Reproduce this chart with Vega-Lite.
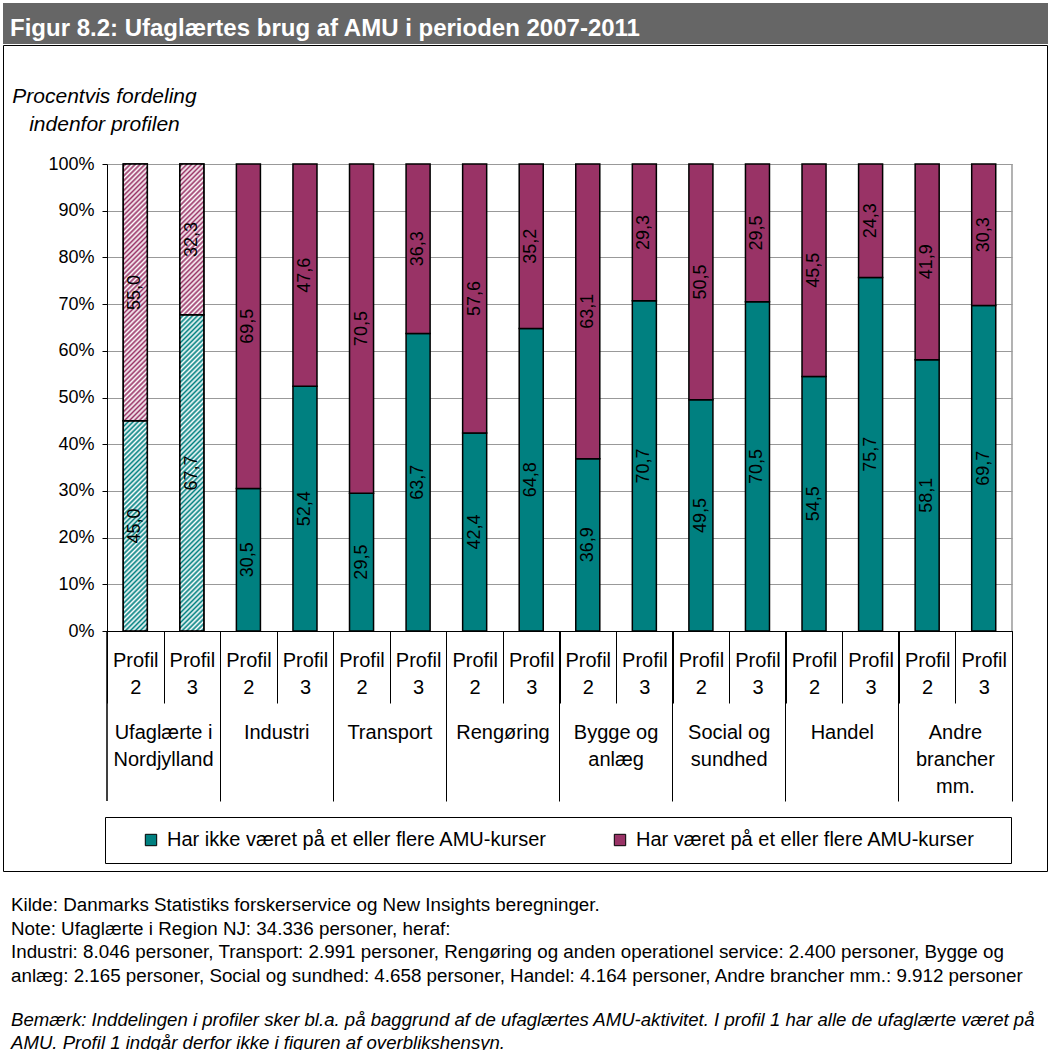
{
"$schema":"https://vega.github.io/schema/vega-lite/v6.json",
"padding":{"left":2,"top":3,"right":0,"bottom":0},
"background":"white",
"spacing":0,
"config":{"font":"Liberation Sans","view":{"stroke":null},"locale":{"number":{"decimal":",","thousands":".","grouping":[3],"currency":["","kr."]}}},
"vconcat":[
{"width":1046,"height":41,"view":{"fill":"#666666","stroke":null},
 "data":{"values":[{}]},
 "mark":{"type":"text","text":""},
 "title":{"text":"Figur 8.2: Ufaglærtes brug af AMU i perioden 2007-2011","anchor":"start","frame":"group","offset":-38,"dx":7,"color":"white","fontSize":24,"fontWeight":"bold"}},
{"width":1044,"height":826,"view":{"stroke":"black","strokeWidth":1,"fill":"white"},
 "data":{"values":[
 {"group":"Ufaglærte i Nordjylland","key":"Ufaglærte i Nordjylland / Profil 2","series":"Har ikke været på et eller flere AMU-kurser","value":45.0},
 {"group":"Ufaglærte i Nordjylland","key":"Ufaglærte i Nordjylland / Profil 2","series":"Har været på et eller flere AMU-kurser","value":55.0},
 {"group":"Ufaglærte i Nordjylland","key":"Ufaglærte i Nordjylland / Profil 3","series":"Har ikke været på et eller flere AMU-kurser","value":67.7},
 {"group":"Ufaglærte i Nordjylland","key":"Ufaglærte i Nordjylland / Profil 3","series":"Har været på et eller flere AMU-kurser","value":32.3},
 {"group":"Industri","key":"Industri / Profil 2","series":"Har ikke været på et eller flere AMU-kurser","value":30.5},
 {"group":"Industri","key":"Industri / Profil 2","series":"Har været på et eller flere AMU-kurser","value":69.5},
 {"group":"Industri","key":"Industri / Profil 3","series":"Har ikke været på et eller flere AMU-kurser","value":52.4},
 {"group":"Industri","key":"Industri / Profil 3","series":"Har været på et eller flere AMU-kurser","value":47.6},
 {"group":"Transport","key":"Transport / Profil 2","series":"Har ikke været på et eller flere AMU-kurser","value":29.5},
 {"group":"Transport","key":"Transport / Profil 2","series":"Har været på et eller flere AMU-kurser","value":70.5},
 {"group":"Transport","key":"Transport / Profil 3","series":"Har ikke været på et eller flere AMU-kurser","value":63.7},
 {"group":"Transport","key":"Transport / Profil 3","series":"Har været på et eller flere AMU-kurser","value":36.3},
 {"group":"Rengøring","key":"Rengøring / Profil 2","series":"Har ikke været på et eller flere AMU-kurser","value":42.4},
 {"group":"Rengøring","key":"Rengøring / Profil 2","series":"Har været på et eller flere AMU-kurser","value":57.6},
 {"group":"Rengøring","key":"Rengøring / Profil 3","series":"Har ikke været på et eller flere AMU-kurser","value":64.8},
 {"group":"Rengøring","key":"Rengøring / Profil 3","series":"Har været på et eller flere AMU-kurser","value":35.2},
 {"group":"Bygge og anlæg","key":"Bygge og anlæg / Profil 2","series":"Har ikke været på et eller flere AMU-kurser","value":36.9},
 {"group":"Bygge og anlæg","key":"Bygge og anlæg / Profil 2","series":"Har været på et eller flere AMU-kurser","value":63.1},
 {"group":"Bygge og anlæg","key":"Bygge og anlæg / Profil 3","series":"Har ikke været på et eller flere AMU-kurser","value":70.7},
 {"group":"Bygge og anlæg","key":"Bygge og anlæg / Profil 3","series":"Har været på et eller flere AMU-kurser","value":29.3},
 {"group":"Social og sundhed","key":"Social og sundhed / Profil 2","series":"Har ikke været på et eller flere AMU-kurser","value":49.5},
 {"group":"Social og sundhed","key":"Social og sundhed / Profil 2","series":"Har været på et eller flere AMU-kurser","value":50.5},
 {"group":"Social og sundhed","key":"Social og sundhed / Profil 3","series":"Har ikke været på et eller flere AMU-kurser","value":70.5},
 {"group":"Social og sundhed","key":"Social og sundhed / Profil 3","series":"Har været på et eller flere AMU-kurser","value":29.5},
 {"group":"Handel","key":"Handel / Profil 2","series":"Har ikke været på et eller flere AMU-kurser","value":54.5},
 {"group":"Handel","key":"Handel / Profil 2","series":"Har været på et eller flere AMU-kurser","value":45.5},
 {"group":"Handel","key":"Handel / Profil 3","series":"Har ikke været på et eller flere AMU-kurser","value":75.7},
 {"group":"Handel","key":"Handel / Profil 3","series":"Har været på et eller flere AMU-kurser","value":24.3},
 {"group":"Andre brancher mm.","key":"Andre brancher mm. / Profil 2","series":"Har ikke været på et eller flere AMU-kurser","value":58.1},
 {"group":"Andre brancher mm.","key":"Andre brancher mm. / Profil 2","series":"Har været på et eller flere AMU-kurser","value":41.9},
 {"group":"Andre brancher mm.","key":"Andre brancher mm. / Profil 3","series":"Har ikke været på et eller flere AMU-kurser","value":69.7},
 {"group":"Andre brancher mm.","key":"Andre brancher mm. / Profil 3","series":"Har været på et eller flere AMU-kurser","value":30.3}
 ]},
 "transform":[
  {"stack":"value","groupby":["key"],"sort":[{"field":"series","order":"ascending"}],"as":["v0","v1"]},
  {"calculate":"(datum.v0+datum.v1)/2","as":"mid"}
 ],
 "title":{"text":["Kilde: Danmarks Statistiks forskerservice og New Insights beregninger.","Note: Ufaglærte i Region NJ: 34.336 personer, heraf:","Industri: 8.046 personer, Transport: 2.991 personer, Rengøring og anden operationel service: 2.400 personer, Bygge og","anlæg: 2.165 personer, Social og sundhed: 4.658 personer, Handel: 4.164 personer, Andre brancher mm.: 9.912 personer"],
  "subtitle":["Bemærk: Inddelingen i profiler sker bl.a. på baggrund af de ufaglærtes AMU-aktivitet. I profil 1 har alle de ufaglærte været på","AMU. Profil 1 indgår derfor ikke i figuren af overblikshensyn."],
  "orient":"bottom","anchor":"start","frame":"group","offset":25,"dx":8,"fontSize":18.8,"fontWeight":"normal","color":"black","lineHeight":23.5,
  "subtitleFontSize":18.6,"subtitleFontStyle":"italic","subtitleColor":"black","subtitleLineHeight":23,"subtitlePadding":26},
 "layer":[
   {"mark":{"type":"bar","stroke":"black","strokeWidth":1.5,"width":{"band":0.425}},
    "encoding":{
     "x":{"field":"key","type":"nominal","sort":null,"title":null,
      "scale":{"domain":["Ufaglærte i Nordjylland / Profil 2","Ufaglærte i Nordjylland / Profil 3","Industri / Profil 2","Industri / Profil 3","Transport / Profil 2","Transport / Profil 3","Rengøring / Profil 2","Rengøring / Profil 3","Bygge og anlæg / Profil 2","Bygge og anlæg / Profil 3","Social og sundhed / Profil 2","Social og sundhed / Profil 3","Handel / Profil 2","Handel / Profil 3","Andre brancher mm. / Profil 2","Andre brancher mm. / Profil 3"],"range":[104,1009],"paddingInner":0,"paddingOuter":0},
      "axis":{"title":null,"orient":"bottom","offset":-240,"labelExpr":"datum.label ? ['Profil', slice(datum.label, -1)] : ''","labelFontSize":20,"labelColor":"black","labelLineHeight":27,"labelBaseline":"top","labelPadding":-53,"labelAngle":0,"labelOverlap":false,"tickBand":"extent","tickSize":72,"tickColor":"black","tickWidth":1,"domainColor":"black","domainWidth":1,"grid":false}},
     "y":{"field":"v0","type":"quantitative",
      "scale":{"domain":[0,100],"range":[586,119],"nice":false},
      "axis":{"orient":"left","offset":-104,"values":[0,10,20,30,40,50,60,70,80,90,100],"labelExpr":"datum.value + '%'","labelFontSize":18,"labelColor":"black","labelPadding":8,"tickSize":5,"tickColor":"black","domainColor":"black","grid":true,"gridColor":"#999999","gridWidth":1,
       "title":["Procentvis fordeling","indenfor profilen"],"titleFontStyle":"italic","titleFontWeight":"normal","titleFontSize":21,"titleColor":"black","titleAngle":0,"titleAlign":"center","titleBaseline":"alphabetic","titleX":-3,"titleY":57,"titleLineHeight":28}},
     "y2":{"field":"v1"},
     "color":{"field":"series","type":"nominal","scale":{"domain":["Har ikke været på et eller flere AMU-kurser","Har været på et eller flere AMU-kurser"],"range":["#008080","#993366"]},
      "legend":{"title":" ","titleOrient":"right","titlePadding":23,"titleFontSize":4,"orient":"none","legendX":102,"legendY":814,"direction":"horizontal","symbolType":"square","symbolSize":130,"symbolStrokeColor":"black","symbolStrokeWidth":1,"labelFontSize":20,"labelColor":"black","labelOffset":6,"labelLimit":0,"padding":13,"strokeColor":"black","fillColor":"white","columnPadding":39,"symbolOffset":23}}
    }},
   {"transform":[{"filter":"datum.group == 'Ufaglærte i Nordjylland' && datum.v0 == 0"}],
    "mark":{"type":"bar","width":{"band":0.425},"strokeWidth":0,"fill":{"gradient":"linear","x1":0,"y1":0,"x2":0.054,"y2":1.0487,"stops":[
{"offset":0,"color":"#fff"},{"offset":0.005,"color":"#fff0"},{"offset":0.01,"color":"#fff"},{"offset":0.015,"color":"#fff0"},{"offset":0.02,"color":"#fff"},{"offset":0.025,"color":"#fff0"},{"offset":0.03,"color":"#fff"},{"offset":0.035,"color":"#fff0"},{"offset":0.04,"color":"#fff"},{"offset":0.045,"color":"#fff0"},
{"offset":0.05,"color":"#fff"},{"offset":0.055,"color":"#fff0"},{"offset":0.06,"color":"#fff"},{"offset":0.065,"color":"#fff0"},{"offset":0.07,"color":"#fff"},{"offset":0.075,"color":"#fff0"},{"offset":0.08,"color":"#fff"},{"offset":0.085,"color":"#fff0"},{"offset":0.09,"color":"#fff"},{"offset":0.095,"color":"#fff0"},
{"offset":0.1,"color":"#fff"},{"offset":0.105,"color":"#fff0"},{"offset":0.11,"color":"#fff"},{"offset":0.115,"color":"#fff0"},{"offset":0.12,"color":"#fff"},{"offset":0.125,"color":"#fff0"},{"offset":0.13,"color":"#fff"},{"offset":0.135,"color":"#fff0"},{"offset":0.14,"color":"#fff"},{"offset":0.145,"color":"#fff0"},
{"offset":0.15,"color":"#fff"},{"offset":0.155,"color":"#fff0"},{"offset":0.16,"color":"#fff"},{"offset":0.165,"color":"#fff0"},{"offset":0.17,"color":"#fff"},{"offset":0.175,"color":"#fff0"},{"offset":0.18,"color":"#fff"},{"offset":0.185,"color":"#fff0"},{"offset":0.19,"color":"#fff"},{"offset":0.195,"color":"#fff0"},
{"offset":0.2,"color":"#fff"},{"offset":0.205,"color":"#fff0"},{"offset":0.21,"color":"#fff"},{"offset":0.215,"color":"#fff0"},{"offset":0.22,"color":"#fff"},{"offset":0.225,"color":"#fff0"},{"offset":0.23,"color":"#fff"},{"offset":0.235,"color":"#fff0"},{"offset":0.24,"color":"#fff"},{"offset":0.245,"color":"#fff0"},
{"offset":0.25,"color":"#fff"},{"offset":0.255,"color":"#fff0"},{"offset":0.26,"color":"#fff"},{"offset":0.265,"color":"#fff0"},{"offset":0.27,"color":"#fff"},{"offset":0.275,"color":"#fff0"},{"offset":0.28,"color":"#fff"},{"offset":0.285,"color":"#fff0"},{"offset":0.29,"color":"#fff"},{"offset":0.295,"color":"#fff0"},
{"offset":0.3,"color":"#fff"},{"offset":0.305,"color":"#fff0"},{"offset":0.31,"color":"#fff"},{"offset":0.315,"color":"#fff0"},{"offset":0.32,"color":"#fff"},{"offset":0.325,"color":"#fff0"},{"offset":0.33,"color":"#fff"},{"offset":0.335,"color":"#fff0"},{"offset":0.34,"color":"#fff"},{"offset":0.345,"color":"#fff0"},
{"offset":0.35,"color":"#fff"},{"offset":0.355,"color":"#fff0"},{"offset":0.36,"color":"#fff"},{"offset":0.365,"color":"#fff0"},{"offset":0.37,"color":"#fff"},{"offset":0.375,"color":"#fff0"},{"offset":0.38,"color":"#fff"},{"offset":0.385,"color":"#fff0"},{"offset":0.39,"color":"#fff"},{"offset":0.395,"color":"#fff0"},
{"offset":0.4,"color":"#fff"},{"offset":0.405,"color":"#fff0"},{"offset":0.41,"color":"#fff"},{"offset":0.415,"color":"#fff0"},{"offset":0.42,"color":"#fff"},{"offset":0.425,"color":"#fff0"},{"offset":0.43,"color":"#fff"},{"offset":0.435,"color":"#fff0"},{"offset":0.44,"color":"#fff"},{"offset":0.445,"color":"#fff0"},
{"offset":0.45,"color":"#fff"},{"offset":0.455,"color":"#fff0"},{"offset":0.46,"color":"#fff"},{"offset":0.465,"color":"#fff0"},{"offset":0.47,"color":"#fff"},{"offset":0.475,"color":"#fff0"},{"offset":0.48,"color":"#fff"},{"offset":0.485,"color":"#fff0"},{"offset":0.49,"color":"#fff"},{"offset":0.495,"color":"#fff0"},
{"offset":0.5,"color":"#fff"},{"offset":0.505,"color":"#fff0"},{"offset":0.51,"color":"#fff"},{"offset":0.515,"color":"#fff0"},{"offset":0.52,"color":"#fff"},{"offset":0.525,"color":"#fff0"},{"offset":0.53,"color":"#fff"},{"offset":0.535,"color":"#fff0"},{"offset":0.54,"color":"#fff"},{"offset":0.545,"color":"#fff0"},
{"offset":0.55,"color":"#fff"},{"offset":0.555,"color":"#fff0"},{"offset":0.56,"color":"#fff"},{"offset":0.565,"color":"#fff0"},{"offset":0.57,"color":"#fff"},{"offset":0.575,"color":"#fff0"},{"offset":0.58,"color":"#fff"},{"offset":0.585,"color":"#fff0"},{"offset":0.59,"color":"#fff"},{"offset":0.595,"color":"#fff0"},
{"offset":0.6,"color":"#fff"},{"offset":0.605,"color":"#fff0"},{"offset":0.61,"color":"#fff"},{"offset":0.615,"color":"#fff0"},{"offset":0.62,"color":"#fff"},{"offset":0.625,"color":"#fff0"},{"offset":0.63,"color":"#fff"},{"offset":0.635,"color":"#fff0"},{"offset":0.64,"color":"#fff"},{"offset":0.645,"color":"#fff0"},
{"offset":0.65,"color":"#fff"},{"offset":0.655,"color":"#fff0"},{"offset":0.66,"color":"#fff"},{"offset":0.665,"color":"#fff0"},{"offset":0.67,"color":"#fff"},{"offset":0.675,"color":"#fff0"},{"offset":0.68,"color":"#fff"},{"offset":0.685,"color":"#fff0"},{"offset":0.69,"color":"#fff"},{"offset":0.695,"color":"#fff0"},
{"offset":0.7,"color":"#fff"},{"offset":0.705,"color":"#fff0"},{"offset":0.71,"color":"#fff"},{"offset":0.715,"color":"#fff0"},{"offset":0.72,"color":"#fff"},{"offset":0.725,"color":"#fff0"},{"offset":0.73,"color":"#fff"},{"offset":0.735,"color":"#fff0"},{"offset":0.74,"color":"#fff"},{"offset":0.745,"color":"#fff0"},
{"offset":0.75,"color":"#fff"},{"offset":0.755,"color":"#fff0"},{"offset":0.76,"color":"#fff"},{"offset":0.765,"color":"#fff0"},{"offset":0.77,"color":"#fff"},{"offset":0.775,"color":"#fff0"},{"offset":0.78,"color":"#fff"},{"offset":0.785,"color":"#fff0"},{"offset":0.79,"color":"#fff"},{"offset":0.795,"color":"#fff0"},
{"offset":0.8,"color":"#fff"},{"offset":0.805,"color":"#fff0"},{"offset":0.81,"color":"#fff"},{"offset":0.815,"color":"#fff0"},{"offset":0.82,"color":"#fff"},{"offset":0.825,"color":"#fff0"},{"offset":0.83,"color":"#fff"},{"offset":0.835,"color":"#fff0"},{"offset":0.84,"color":"#fff"},{"offset":0.845,"color":"#fff0"},
{"offset":0.85,"color":"#fff"},{"offset":0.855,"color":"#fff0"},{"offset":0.86,"color":"#fff"},{"offset":0.865,"color":"#fff0"},{"offset":0.87,"color":"#fff"},{"offset":0.875,"color":"#fff0"},{"offset":0.88,"color":"#fff"},{"offset":0.885,"color":"#fff0"},{"offset":0.89,"color":"#fff"},{"offset":0.895,"color":"#fff0"},
{"offset":0.9,"color":"#fff"},{"offset":0.905,"color":"#fff0"},{"offset":0.91,"color":"#fff"},{"offset":0.915,"color":"#fff0"},{"offset":0.92,"color":"#fff"},{"offset":0.925,"color":"#fff0"},{"offset":0.93,"color":"#fff"},{"offset":0.935,"color":"#fff0"},{"offset":0.94,"color":"#fff"},{"offset":0.945,"color":"#fff0"},
{"offset":0.95,"color":"#fff"},{"offset":0.955,"color":"#fff0"},{"offset":0.96,"color":"#fff"},{"offset":0.965,"color":"#fff0"},{"offset":0.97,"color":"#fff"},{"offset":0.975,"color":"#fff0"},{"offset":0.98,"color":"#fff"},{"offset":0.985,"color":"#fff0"},{"offset":0.99,"color":"#fff"},{"offset":0.995,"color":"#fff0"},
{"offset":1,"color":"#fff"}]}},
    "encoding":{"x":{"field":"key","type":"nominal","sort":null,"axis":null},
     "y":{"datum":0},"y2":{"datum":100}}},
   {"transform":[{"filter":"datum.group == 'Ufaglærte i Nordjylland'"}],
    "mark":{"type":"bar","width":{"band":0.425},"fillOpacity":0,"stroke":"black","strokeWidth":1.5},
    "encoding":{"x":{"field":"key","type":"nominal","sort":null,"axis":null},
     "y":{"field":"v0","type":"quantitative"},"y2":{"field":"v1"}}},
   {"mark":{"type":"text","angle":270,"fontSize":18,"color":"black","align":"center","baseline":"middle"},
    "encoding":{"x":{"field":"key","type":"nominal","sort":null,"axis":null},
     "y":{"field":"mid","type":"quantitative"},"text":{"field":"value","type":"quantitative","format":".1f"}}},
   {"mark":{"type":"rule","color":"black","strokeWidth":1},
    "encoding":{"x":{"field":"key","type":"nominal","sort":null,"bandPosition":0,"axis":null},
     "y":{"datum":0},"y2":{"datum":-36.4},
     "strokeOpacity":{"condition":{"test":"datum.key == 'Ufaglærte i Nordjylland / Profil 2'","value":1},"value":0}}},
  {"mark":{"type":"rule","color":"#999999","strokeWidth":1},
   "encoding":{
    "x":{"field":"key","type":"nominal","sort":null,"bandPosition":1,"title":null,
     "axis":{"title":null,"orient":"bottom","offset":-240,"values":["Ufaglærte i Nordjylland / Profil 3","Industri / Profil 3","Transport / Profil 3","Rengøring / Profil 3","Bygge og anlæg / Profil 3","Social og sundhed / Profil 3","Handel / Profil 3","Andre brancher mm. / Profil 3"],
      "bandPosition":1,"tickExtra":false,
      "labelExpr":"indexof(datum.label,' / ') < 0 ? '' : slice(datum.label,0,indexof(datum.label,' / ')) == 'Andre brancher mm.' ? ['Andre','brancher','mm.'] : indexof(slice(datum.label,0,indexof(datum.label,' / ')),' ') < 0 ? slice(datum.label,0,indexof(datum.label,' / ')) : [slice(datum.label,0,lastindexof(slice(datum.label,0,indexof(datum.label,' / ')),' ')), slice(slice(datum.label,0,indexof(datum.label,' / ')),lastindexof(slice(datum.label,0,indexof(datum.label,' / ')),' ')+1)]",
      "labelOffset":-28.28,"labelFontSize":20,"labelColor":"black","labelLineHeight":27,"labelBaseline":"top","labelPadding":-79,"labelAngle":0,"labelOverlap":false,"tickSize":170,"tickColor":"black","tickWidth":1,"domainColor":"black","grid":false}},
    "y":{"datum":0},"y2":{"datum":100},
    "strokeOpacity":{"condition":{"test":"datum.key == 'Andre brancher mm. / Profil 3'","value":1},"value":0}}}
 ],
 "resolve":{"axis":{"x":"independent"}}
}
]
}
